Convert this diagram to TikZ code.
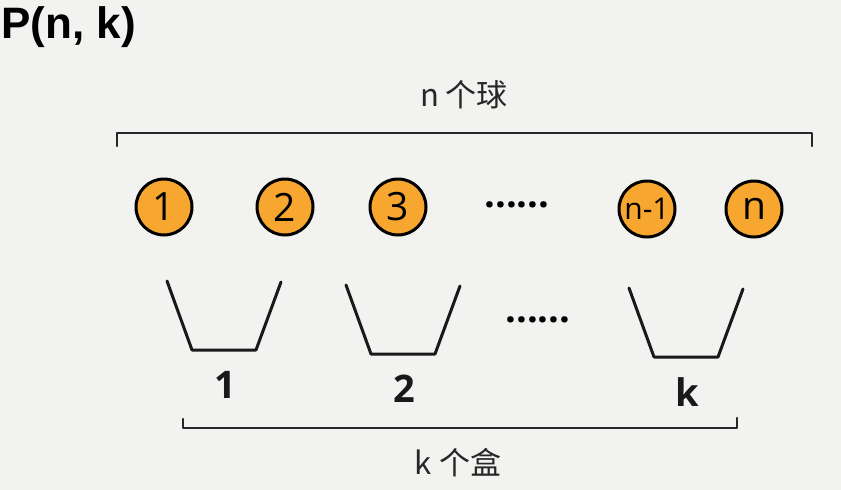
\documentclass[tikz,border=0pt]{standalone}
\usepackage{fontspec}
\setmainfont{Open Sans}
\newfontfamily\cjk{Noto Sans CJK SC}
\newfontfamily\titlefont{Liberation Sans}
\usepackage{xcolor}
\definecolor{pkbg}{HTML}{F2F2F0}
\definecolor{pkorange}{HTML}{F7A630}
\usetikzlibrary{positioning}
\tikzset{
  every picture/.style={line cap=round, line join=round},
  ball/.style={circle, draw=black, line width=3pt, fill=pkorange, minimum size=56pt,
    inner sep=0pt, font=\fontsize{39}{39}\selectfont},
  smallball/.style={ball, font=\fontsize{30}{30}\selectfont},
  bucket/.style={black!90, line width=3pt},
  brace/.style={black!85, line width=2.6pt},
  lbl/.style={font=\cjk\fontsize{31}{31}\selectfont, text=black!85},
  boxlbl/.style={font=\bfseries\fontsize{38}{38}\selectfont, text=black!90},
  dotlbl/.style={font=\bfseries\fontsize{38}{38}\selectfont},
}

\begin{document}
\begin{tikzpicture}[x=1pt, y=-1pt]
\fill[pkbg] (0,0) rectangle (841,490);
\useasboundingbox (0,0) rectangle (841,490);
% title
\node[anchor=west, font=\titlefont\bfseries\fontsize{44}{44}\selectfont] (title) at (-2,27) {P(n, k)};
% balls
\foreach \x/\t [count=\i] in {164/1, 285/2, 398/3} {
  \node[ball] (ball\i) at (\x,207) {\t};
}
\node[dotlbl] (balldots) at (517,205) {......};
\node[smallball] (ballm) at (647,209) {n-1};
\node[ball] (balln) at (754,209) {n};
% top bracket
\coordinate (tl) at (117,146);
\coordinate (tr) at (812,146);
\draw[brace] (tl) -- (tl |- 0,133) -- (tr |- 0,133) -- (tr);
\node[lbl] (nlbl) at (464,95) {n 个球};
% buckets
\foreach \cx/\ty/\t in {224/281/1, 403/285/2, 686/288/k} {
  \draw[bucket] (\cx-57,\ty) -- (\cx-32,\ty+69) -- (\cx+32,\ty+69) -- (\cx+57,\ty+1);
  \node[boxlbl] (box\t) at (\cx+1,\ty+104) {\t};
}
\node[dotlbl] (boxdots) at (538,320) {......};
% bottom bracket
\coordinate (bl) at (183,419);
\coordinate (br) at (737,418);
\draw[brace] (bl) -- (bl |- 0,428) -- (br |- 0,428) -- (br);
\node[lbl] (klbl) at (458,463) {k 个盒};
\end{tikzpicture}
\end{document}
